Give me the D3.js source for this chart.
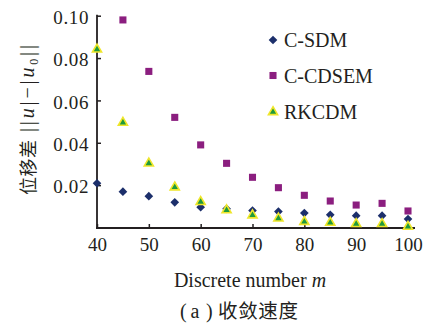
<!DOCTYPE html>
<html><head><meta charset="utf-8">
<script src="https://cdn.jsdelivr.net/npm/d3@7"></script>
<style>
html,body{margin:0;padding:0;background:#fff;}
svg{display:block;}
</style></head><body>
<svg id="chart" width="439" height="324"></svg>
<script>
const xValues = [40,45,50,55,60,65,70,75,80,85,90,95,100];
const csdm    = [0.0209,0.0169,0.0148,0.0119,0.0096,0.0088,0.0080,0.0075,0.0068,0.0060,0.0056,0.0056,0.0040];
const ccdsem  = [null,0.0980,0.0737,0.0520,0.0390,0.0303,0.0237,0.0188,0.0152,0.0125,0.0106,0.0114,0.0078];
const rkcdm   = [0.0841,0.0495,0.0303,0.0190,0.0121,0.0082,0.0058,0.0043,0.0027,0.0023,0.0017,0.0017,0.0004];
const xTicks = [40,50,60,70,80,90,100];
const yTicks = [0.02,0.04,0.06,0.08,0.10];
const seriesNames = ["C-SDM","C-CDSEM","RKCDM"];

const SERIF = "'Liberation Serif', 'DejaVu Serif', serif";
const CJK = "'Noto Sans CJK SC', sans-serif";
const svg = d3.select("#chart");
const ink = "#231f20";
const x = d3.scaleLinear().domain([40,100]).range([97,408]);
const y = d3.scaleLinear().domain([0,0.10]).range([227.5,15.7]);
const xEnd = 415;

// axes
const gx = svg.append("g").attr("transform","translate(0,228)");
gx.call(d3.axisBottom(x).tickValues(xTicks).tickSizeInner(-4).tickSizeOuter(0).tickPadding(10).tickFormat(d3.format("d")));
gx.select(".domain").remove();
gx.append("line").attr("x1",96).attr("x2",xEnd).attr("y1",0).attr("y2",0).attr("stroke",ink).attr("stroke-width",1.8);
gx.selectAll(".tick line").attr("stroke",ink).attr("stroke-width",1.5);
gx.selectAll(".tick text").attr("fill",ink).style("font-family",SERIF).style("font-size","19px");

const gy = svg.append("g").attr("transform","translate(97,0)");
gy.call(d3.axisLeft(y).tickValues(yTicks).tickSizeInner(-4).tickSizeOuter(0).tickPadding(8).tickFormat(d3.format(".2f")));
gy.select(".domain").remove();
gy.append("line").attr("x1",0).attr("x2",0).attr("y1",y(0.10)-1).attr("y2",228.9).attr("stroke",ink).attr("stroke-width",1.8);
gy.selectAll(".tick line").attr("stroke",ink).attr("stroke-width",1.5);
gy.selectAll(".tick text").attr("fill",ink).style("font-family",SERIF).style("font-size","19px").style("letter-spacing","0.6px").attr("dy","0.4em");

// symbols
const colNavy = "#1c2f6b", colPurple = "#8b1e7f", colGreen = "#1f9a3c", colYellow = "#efe62a";
const diamond = d3.symbol().type(d3.symbolDiamond2).size(48)();
const square = d3.symbol().type(d3.symbolSquare).size(50)();
const tri = d3.symbol().type(d3.symbolTriangle).size(36)();

function draw(vals, path, fill, stroke, sw){
  svg.append("g").selectAll("path")
    .data(xValues.map((v,i)=>({x:v,y:vals[i]})).filter(d=>d.y!=null))
    .join("path")
    .attr("d",path)
    .attr("transform",d=>`translate(${x(d.x)},${y(d.y)})`)
    .attr("fill",fill).attr("stroke",stroke).attr("stroke-width",sw);
}
draw(ccdsem, square, colPurple, "none", 0);
draw(csdm, diamond, colNavy, "none", 0);
draw(rkcdm, tri, colGreen, colYellow, 1.6);

// legend
const legY = [40,75.5,112];
const legPaths = [[diamond,colNavy,"none",0],[square,colPurple,"none",0],[tri,colGreen,colYellow,1.6]];
seriesNames.forEach((name,i)=>{
  const p = legPaths[i];
  svg.append("path").attr("d",p[0]).attr("transform",`translate(273,${legY[i]})`)
    .attr("fill",p[1]).attr("stroke",p[2]).attr("stroke-width",p[3]);
  svg.append("text").attr("x",284).attr("y",legY[i]+7).attr("fill",ink)
    .style("font-family",SERIF).style("font-size","20px").text(name);
});

// axis titles
const xt = svg.append("text").attr("x",250).attr("y",287).attr("text-anchor","middle").attr("fill",ink)
  .style("font-family",SERIF).style("font-size","20px");
xt.append("tspan").text("Discrete number ");
xt.append("tspan").style("font-style","italic").text("m");

// y title: Chinese part + norm expression
svg.append("text").attr("transform","translate(35,195) rotate(-90)").attr("text-anchor","start").attr("fill",ink)
  .attr("textLength",55).attr("lengthAdjust","spacing")
  .style("font-family",CJK).style("font-size","18px").text("位移差");
const ym = svg.append("text").attr("transform","translate(34,132) rotate(-90)").attr("text-anchor","start").attr("fill",ink)
  .attr("textLength",87).attr("lengthAdjust","spacing")
  .style("font-family",SERIF).style("font-size","20px");
ym.append("tspan").text("||");
ym.append("tspan").style("font-style","italic").text("u");
ym.append("tspan").text("|−|");
ym.append("tspan").style("font-style","italic").text("u");
ym.append("tspan").style("font-size","12px").attr("dy",4).text("0");
ym.append("tspan").attr("dy",-4).text("||");

// caption
const capY = 318;
svg.append("text").attr("x",180).attr("y",capY).attr("fill",ink).style("font-family",SERIF).style("font-size","20px").text("(");
svg.append("text").attr("x",195).attr("y",capY).attr("text-anchor","middle").attr("fill",ink).style("font-family",SERIF).style("font-size","20px").text("a");
svg.append("text").attr("x",206).attr("y",capY).attr("fill",ink).style("font-family",SERIF).style("font-size","20px").text(")");
svg.append("text").attr("x",218).attr("y",capY).attr("fill",ink).attr("textLength",80).attr("lengthAdjust","spacing")
  .style("font-family",CJK).style("font-size","19.5px").text("收敛速度");
</script>
</body></html>
